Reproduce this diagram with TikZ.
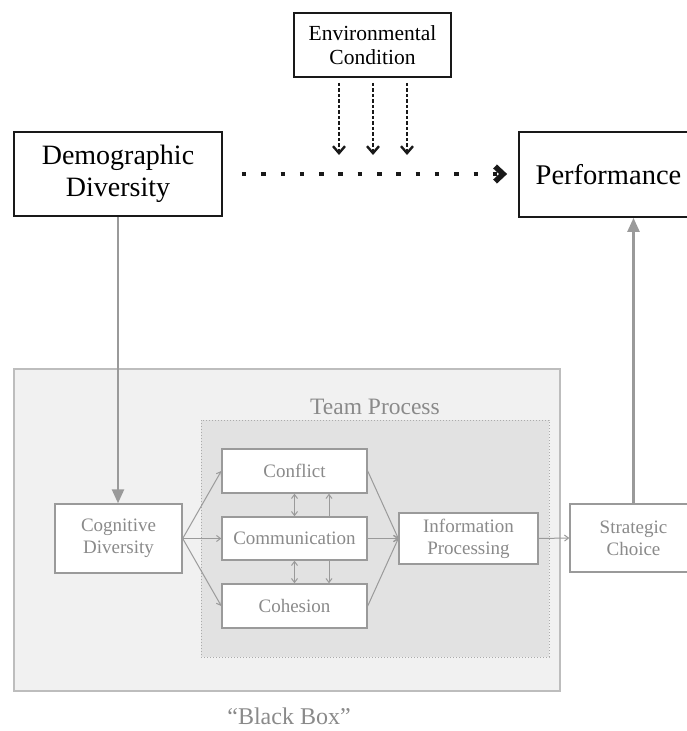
\documentclass[tikz,border=0pt]{standalone}
\usepackage{fontspec}
\setmainfont{Liberation Serif}
\usetikzlibrary{arrows.meta,calc}
\definecolor{gtext}{HTML}{8A8A8A}
\definecolor{gline}{HTML}{9A9A9A}
\definecolor{outerfill}{HTML}{F1F1F1}
\definecolor{outerline}{HTML}{BDBDBD}
\definecolor{innerfill}{HTML}{E2E2E2}
\definecolor{innerline}{HTML}{ABABAB}
\tikzset{
  topbox/.style={draw=black!90, line width=1.8pt, fill=white, align=center, inner sep=0pt},
  graybox/.style={draw=gline, line width=1.4pt, fill=white, align=center, inner sep=0pt, text=gtext,
    font=\fontsize{19}{22}\selectfont},
  smallarrow/.style={draw=gline, line width=1pt, -{Straight Barb[length=4pt,width=6pt]}},
  bigarrow/.style={draw=gline, line width=2.4pt, -{Triangle[length=14pt,width=12pt]}},
  envarrow/.style={draw=black!90, line width=2pt, dash pattern=on 3.5pt off 2pt,
    -{Straight Barb[length=7pt,width=12pt,line width=2.4pt]}},
}
\begin{document}
\begin{tikzpicture}[x=1pt,y=-1pt]
\useasboundingbox (0,0) rectangle (686,731);
\fill[white] (0,0) rectangle (686,731);

% black box region
\draw[fill=outerfill, draw=outerline, line width=1.4pt] (14,369) rectangle (560,691);
\draw[fill=innerfill, draw=innerline, line width=1pt, dotted] (201,420) rectangle (549,657);
\node[text=gtext, font=\fontsize{23.5}{27}\selectfont] (tp) at (375,407) {Team Process};
\node[text=gtext, font=\fontsize{24}{28}\selectfont] (bb) at (289,716) {“Black Box”};

% top nodes
\node[topbox, minimum width=157pt, minimum height=64pt, font=\fontsize{21.5}{24}\selectfont] (env) at (372.5,45) {Environmental\\Condition};
\node[topbox, minimum width=208pt, minimum height=84pt, font=\fontsize{28}{32}\selectfont] (demo) at (118,174) {Demographic\\Diversity};
\node[topbox, minimum width=179pt, minimum height=85pt, font=\fontsize{28.5}{32}\selectfont] (perf) at (608.5,174.5) {Performance};

% gray nodes
\node[graybox, minimum width=127pt, minimum height=69pt] (cog) at (118.5,538.5) {Cognitive\\Diversity};
\node[graybox, minimum width=145pt, minimum height=44pt] (conf) at (294.5,471) {Conflict};
\node[graybox, minimum width=145pt, minimum height=43pt] (comm) at (294.5,538.5) {Communication};
\node[graybox, minimum width=145pt, minimum height=44pt] (coh) at (294.5,606) {Cohesion};
\node[graybox, minimum width=139pt, minimum height=51pt] (ip) at (468.5,538.5) {Information\\Processing};
\node[graybox, minimum width=127pt, minimum height=68pt] (strat) at (633.5,538) {Strategic\\Choice};

% environmental dashed arrows
\coordinate (e1) at (339,155);
\coordinate (e2) at (373,155);
\coordinate (e3) at (407,155);
\draw[envarrow] (env.south -| e1) ++(0,5) -- (e1);
\draw[envarrow] (env.south -| e2) ++(0,5) -- (e2);
\draw[envarrow] (env.south -| e3) ++(0,5) -- (e3);

% dotted main arrow
\draw[black!90, line width=4.5pt, dash pattern=on 4.5pt off 14.8pt, shorten <=19pt, shorten >=11pt,
  -{Straight Barb[length=8pt,width=15pt,line width=5.5pt]}] (demo.east) -- (demo.east -| perf.west);

% big gray arrows
\draw[bigarrow] (demo.south) -- (demo.south |- cog.north);
\draw[bigarrow] (strat.north) -- (strat.north |- perf.south);

% inner arrows
\draw[smallarrow] (cog.east) -- (conf.west);
\draw[smallarrow] (cog.east) -- (comm.west);
\draw[smallarrow] (cog.east) -- (coh.west);
\draw[smallarrow] (conf.east) -- (ip.west);
\draw[smallarrow] (comm.east) -- (ip.west);
\draw[smallarrow] (coh.east) -- (ip.west);
\draw[smallarrow] (ip.east) -- (strat.west);
\draw[smallarrow, {Straight Barb[length=4pt,width=6pt]}-{Straight Barb[length=4pt,width=6pt]}] (conf.south) -- (comm.north);
\draw[smallarrow, {Straight Barb[length=4pt,width=6pt]}-{Straight Barb[length=4pt,width=6pt]}] (comm.south) -- (coh.north);
\draw[smallarrow] ([xshift=34.5pt]comm.north) -- ([xshift=34.5pt]conf.south);
\draw[smallarrow] ([xshift=34.5pt]comm.south) -- ([xshift=34.5pt]coh.north);
\end{tikzpicture}
\end{document}
